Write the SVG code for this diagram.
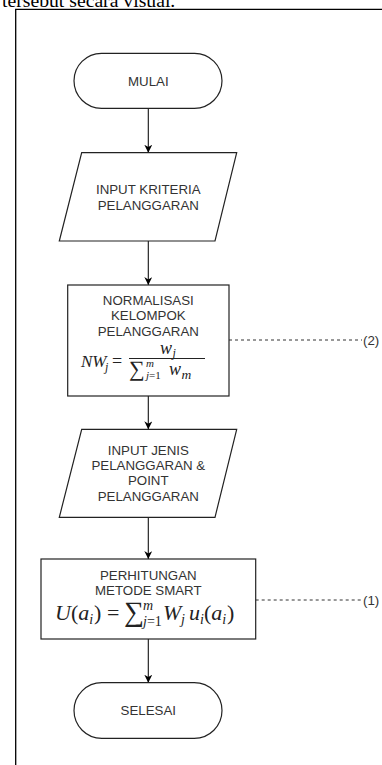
<svg xmlns="http://www.w3.org/2000/svg" width="382" height="765" viewBox="0 0 382 765">
<defs>
<marker id="arr" viewBox="0 0 10 10" refX="10" refY="5" markerWidth="8" markerHeight="8" markerUnits="userSpaceOnUse" orient="auto">
<path d="M0,0 L10,5 L0,10 L3,5 z" fill="#000"/>
</marker>
<style>
.shape{fill:#fff;stroke:#222;stroke-width:1.2}
.lbl{font-family:"Liberation Sans",Arial,sans-serif;font-size:13.3px;fill:#333;text-anchor:middle}
.conn{stroke:#111;stroke-width:1.1;fill:none;marker-end:url(#arr)}
.dash{stroke:#333;stroke-width:1;stroke-dasharray:3,3;fill:none}
.math{font-family:"Liberation Serif","Times New Roman",serif;fill:#222}
.it{font-style:italic}
</style>
</defs>
<rect width="382" height="765" fill="#fff"/>
<text x="2" y="6.7" style="font-family:'Liberation Serif','Times New Roman',serif;font-size:19.7px;fill:#000">tersebut secara visual.</text>
<path d="M15.7,765 V9.3 H382" fill="none" stroke="#000" stroke-width="1.3"/>

<g id="connectors">
<line class="conn" x1="148.3" y1="108.3" x2="148.3" y2="152.7"/>
<line class="conn" x1="148.3" y1="241" x2="148.3" y2="285"/>
<line class="conn" x1="148.3" y1="396" x2="148.3" y2="429.3"/>
<line class="conn" x1="148.3" y1="517.3" x2="148.3" y2="559"/>
<line class="conn" x1="148.3" y1="639" x2="148.3" y2="682.7"/>
<line class="dash" x1="229" y1="340" x2="362" y2="340"/>
<line class="dash" x1="255.7" y1="600" x2="362" y2="600"/>
</g>

<g id="mulai">
<rect class="shape" x="74" y="53.3" width="148" height="55" rx="27.5"/>
<text class="lbl" x="148.3" y="85.5">MULAI</text>
</g>

<g id="input-kriteria">
<polygon class="shape" points="81.7,152.7 236.7,152.7 215,241 59.3,241"/>
<text class="lbl" x="148.3" y="194">INPUT KRITERIA</text>
<text class="lbl" x="148.3" y="210.3">PELANGGARAN</text>
</g>

<g id="normalisasi">
<rect class="shape" x="67.7" y="285" width="161.3" height="111"/>
<text class="lbl" x="148.3" y="304.6">NORMALISASI</text>
<text class="lbl" x="148.3" y="320">KELOMPOK</text>
<text class="lbl" x="148.3" y="335.6">PELANGGARAN</text>
<text class="math" font-size="17"><tspan class="it" x="81" y="367">NW</tspan><tspan class="it" x="105" y="370.5" font-size="12">j</tspan><tspan x="112" y="367" font-size="18">=</tspan><tspan class="it" x="160" y="354" font-size="18">w</tspan><tspan class="it" x="172.5" y="357" font-size="12">j</tspan><tspan x="129" y="376" font-size="22">∑</tspan><tspan class="it" x="146" y="366.5" font-size="11">m</tspan><tspan class="it" x="146" y="379" font-size="11">j</tspan><tspan font-size="11">=1</tspan><tspan class="it" x="169" y="375" font-size="18">w</tspan><tspan class="it" x="181.5" y="378.5" font-size="13.5">m</tspan></text>
<line x1="129" y1="358.5" x2="205" y2="358.5" stroke="#222" stroke-width="1"/>
</g>

<g id="label-2">
<text x="363" y="344.5" style="font-family:'Liberation Sans',Arial,sans-serif;font-size:13.3px;fill:#333">(2)</text>
</g>

<g id="input-jenis">
<polygon class="shape" points="81.7,429.3 236.7,429.3 215,517.3 59.3,517.3"/>
<text class="lbl" x="148.3" y="454.6">INPUT JENIS</text>
<text class="lbl" x="148.3" y="469.9">PELANGGARAN &amp;</text>
<text class="lbl" x="148.3" y="485.3">POINT</text>
<text class="lbl" x="148.3" y="501.3">PELANGGARAN</text>
</g>

<g id="perhitungan">
<rect class="shape" x="41" y="559" width="214.7" height="80"/>
<text class="lbl" x="148.3" y="579.6">PERHITUNGAN</text>
<text class="lbl" x="148.3" y="594.6">METODE SMART</text>
<text class="math" font-size="22"><tspan class="it" x="55" y="620">U</tspan><tspan x="71">(</tspan><tspan class="it" x="78.3">a</tspan><tspan class="it" x="89.3" y="624" font-size="14">i</tspan><tspan x="94" y="620">)</tspan><tspan x="107">=</tspan><tspan x="124" y="621" font-size="28">∑</tspan><tspan class="it" x="143" y="610" font-size="14">m</tspan><tspan class="it" x="143" y="626" font-size="14">j</tspan><tspan font-size="14">=1</tspan><tspan class="it" x="163" y="620">W</tspan><tspan class="it" x="181" y="624" font-size="14">j</tspan><tspan class="it" x="189" y="620">u</tspan><tspan class="it" x="200" y="624" font-size="14">i</tspan><tspan x="204" y="620">(</tspan><tspan class="it" x="211.3">a</tspan><tspan class="it" x="222.3" y="624" font-size="14">i</tspan><tspan x="227" y="620">)</tspan></text>
</g>

<g id="label-1">
<text x="363" y="604.5" style="font-family:'Liberation Sans',Arial,sans-serif;font-size:13.3px;fill:#333">(1)</text>
</g>

<g id="selesai">
<rect class="shape" x="74" y="682.7" width="148" height="55.7" rx="27.8"/>
<text class="lbl" x="148.3" y="715">SELESAI</text>
</g>
</svg>
